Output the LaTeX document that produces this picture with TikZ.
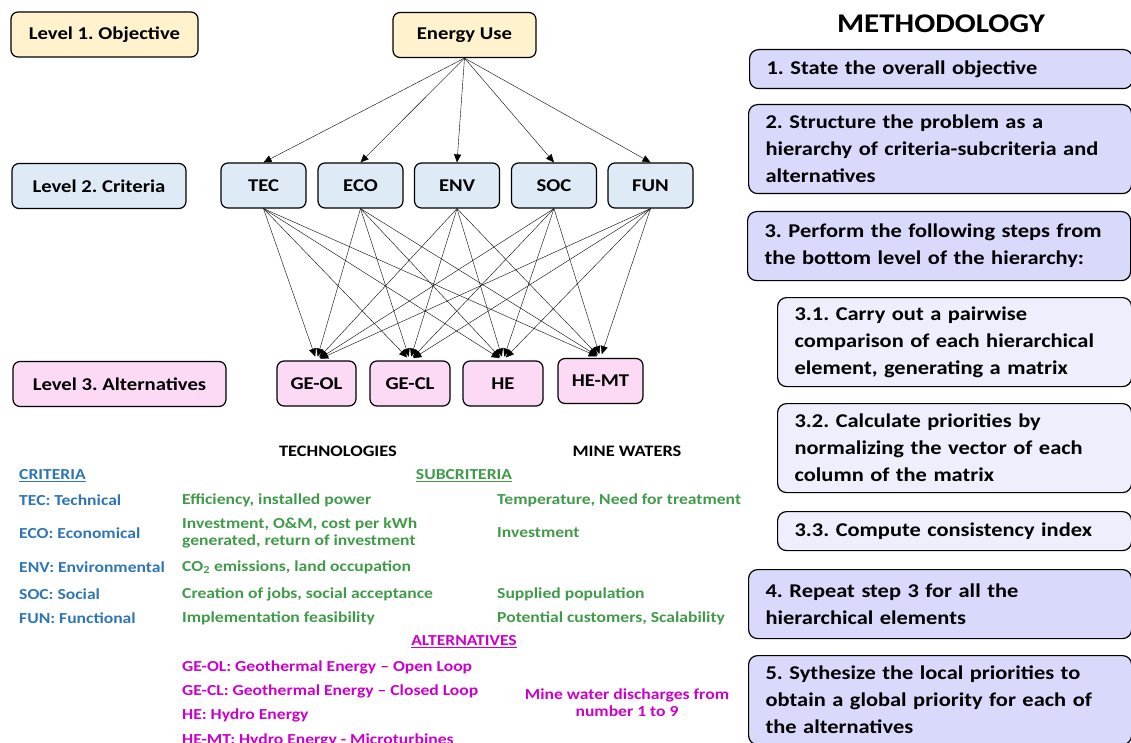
\documentclass[tikz,border=0pt]{standalone}
\usepackage{fontspec}
\setmainfont{Carlito}[FakeStretch=1.15]
\usetikzlibrary{arrows.meta}
\frenchspacing

\definecolor{objfill}{HTML}{FFF2CC}
\definecolor{critfill}{HTML}{DEEBF7}
\definecolor{altfill}{HTML}{FCD9F4}
\definecolor{methfill}{HTML}{D9D9FC}
\definecolor{subfill}{HTML}{EEEEFC}
\definecolor{critblue}{HTML}{2E75B6}
\definecolor{subgreen}{HTML}{409A49}
\definecolor{altmag}{HTML}{CC00CC}

\begin{document}
\begin{tikzpicture}[x=1pt, y=-1pt,
	lvl/.style={draw, rounded corners=7pt, line width=1.2pt, inner sep=0pt, minimum height=45,
		font=\fontsize{18}{20}\selectfont\bfseries},
	objbox/.style={lvl, fill=objfill},
	critbox/.style={lvl, fill=critfill},
	altbox/.style={lvl, fill=altfill},
	edge/.style={line width=0.4pt, -{Triangle[length=8pt,width=7pt]}},
	methbox/.style={draw, rounded corners=9pt, line width=1.2pt, fill=methfill, anchor=north west,
		align=left, inner xsep=17pt, inner ysep=0pt, minimum width=383, text width=349,
		font=\fontsize{19.5}{27}\selectfont\bfseries},
	subbox/.style={methbox, fill=subfill, minimum width=354, text width=320},
	txt/.style={inner sep=0pt, font=\fontsize{15.3}{17}\selectfont\bfseries},
	crit/.style={txt, anchor=west, text=critblue},
	sub/.style={txt, anchor=west, text=subgreen, align=left},
	alt/.style={txt, anchor=west, text=altmag}]
	\useasboundingbox (0,0) rectangle (1131,743);

	% hierarchy
	\node[objbox, minimum width=187] (lvl1) at (104.5,34.5) {Level 1. Objective};
	\node[critbox, minimum width=174] (lvl2) at (99,186) {Level 2. Criteria};
	\node[altbox, minimum width=213] (lvl3) at (119.5,384) {Level 3. Alternatives};
	\node[objbox, minimum width=143] (goal) at (464.5,35) {Energy Use};
	\foreach \n/\x in {TEC/263.5, ECO/360.5, ENV/457, SOC/554, FUN/650.5} {
		\node[critbox, minimum width=85] (\n) at (\x,185.5) {\n};
	};
	\foreach \n/\t/\x/\y/\w in {geol/GE-OL/316.5/383.5/79, gecl/GE-CL/410/383.5/80,
		he/HE/503/383.5/80, hemt/HE-MT/600.5/381/85} {
		\node[altbox, minimum width=\w] (\n) at (\x,\y) {\t};
	};
	\foreach \c in {TEC, ECO, ENV, SOC, FUN} {
		\draw[edge] (goal.south) -- (\c.north);
		\foreach \a in {geol, gecl, he, hemt}
			\draw[edge, shorten >=4pt] (\c.south) -- (\a.north);
	};

	% legend
	\node[txt, font=\fontsize{16}{18}\selectfont\bfseries] (tech) at (338,451) {TECHNOLOGIES};
	\node[txt, font=\fontsize{16}{18}\selectfont\bfseries] (mine) at (627,451) {MINE WATERS};
	\node[crit] (crith) at (19,476) {\underline{CRITERIA}};
	\node[txt, text=subgreen] (subh) at (464,476) {\underline{SUBCRITERIA}};
	\node[txt, text=altmag] (alth) at (464,642) {\underline{ALTERNATIVES}};
	\foreach \t [count=\i] in {TEC: Technical, ECO: Economical, ENV: Environmental, SOC: Social, FUN: Functional} {
		\pgfmathsetmacro\yy{{500,533,567,594,618}[\i-1]}
		\node[crit] (c\i) at (19,\yy) {\t};
	};
	\node[sub] (t1) at (182,500) {Efficiency, installed power};
	\node[sub] (t2) at (182,533) {Investment, O\&M, cost per kWh\\generated, return of investment};
	\node[sub] (t3) at (182,567) {CO\textsubscript{2} emissions, land occupation};
	\node[sub] (t4) at (182,594) {Creation of jobs, social acceptance};
	\node[sub] (t5) at (182,618) {Implementation feasibility};
	\node[sub] (m1) at (497,500) {Temperature, Need for treatment};
	\node[sub] (m2) at (497,533) {Investment};
	\node[sub] (m4) at (497,594) {Supplied population};
	\node[sub] (m5) at (497,618) {Potential customers, Scalability};
	\node[alt] (a1) at (182,667) {GE-OL: Geothermal Energy -- Open Loop};
	\node[alt] (a2) at (182,691) {GE-CL: Geothermal Energy -- Closed Loop};
	\node[alt] (a3) at (182,715) {HE: Hydro Energy};
	\node[alt] (a4) at (182,740) {HE-MT: Hydro Energy - Microturbines};
	\node[txt, text=altmag, align=center] (mw) at (627,703) {Mine water discharges from\\number 1 to 9};

	% methodology
	\node[txt, font=\fontsize{27}{30}\selectfont\bfseries] (meth) at (941,24) {METHODOLOGY};
	\node[methbox, minimum height=39] (s1) at (749,49) {1. State the overall objective};
	\node[methbox, minimum height=89] (s2) at (748,104) {2. Structure the problem as a\\hierarchy of criteria-subcriteria and\\alternatives};
	\node[methbox, minimum height=69] (s3) at (747,211) {3. Perform the following steps from\\the bottom level of the hierarchy:};
	\node[subbox, minimum height=89] (s31) at (777,297) {3.1. Carry out a pairwise\\comparison of each hierarchical\\element, generating a matrix};
	\node[subbox, minimum height=89] (s32) at (777,403) {3.2. Calculate priorities by\\normalizing the vector of each\\column of the matrix};
	\node[subbox, minimum height=39] (s33) at (777,511) {3.3. Compute consistency index};
	\node[methbox, minimum height=69] (s4) at (748,569) {4. Repeat step 3 for all the\\hierarchical elements};
	\node[methbox, minimum height=89] (s5) at (748,655) {5. Sythesize the local priorities to\\obtain a global priority for each of\\the alternatives};
\end{tikzpicture}
\end{document}
